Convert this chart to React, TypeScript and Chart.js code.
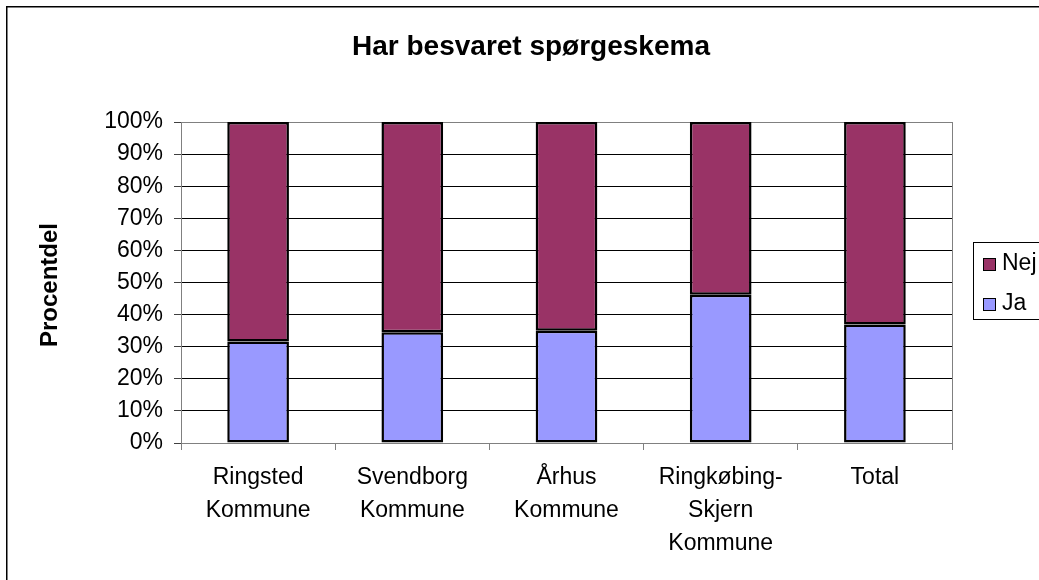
import React, { useEffect, useRef } from "react";
import { Chart, registerables } from "chart.js";

Chart.register(...registerables);

const TITLE = "Har besvaret spørgeskema";
const Y_TITLE = "Procentdel";
const CATEGORIES: string[][] = [
  ["Ringsted", "Kommune"],
  ["Svendborg", "Kommune"],
  ["Århus", "Kommune"],
  ["Ringkøbing-", "Skjern", "Kommune"],
  ["Total"],
];
const JA = [31.6, 34.5, 35.0, 46.2, 36.9];
const NEJ = [68.4, 65.5, 65.0, 53.8, 63.1];
const Y_TICKS = [0, 10, 20, 30, 40, 50, 60, 70, 80, 90, 100];

const FONT = "'Liberation Sans', Arial, sans-serif";
const NEJ_COLOR = "#993366";
const JA_COLOR = "#9999FF";

const decorPlugin = {
  id: "decor",
  beforeDatasetsDraw(chart: any) {
    const { ctx, chartArea } = chart;
    ctx.save();
    ctx.strokeStyle = "#808080";
    ctx.lineWidth = 1;
    ctx.beginPath();
    ctx.moveTo(Math.round(chartArea.right) + 0.5, chartArea.top);
    ctx.lineTo(Math.round(chartArea.right) + 0.5, chartArea.bottom + 7);
    ctx.stroke();
    ctx.restore();
  },
  afterDraw(chart: any) {
    const { ctx } = chart;
    ctx.save();
    // outer frame
    ctx.strokeStyle = "#000";
    ctx.lineWidth = 1.5;
    ctx.beginPath();
    ctx.moveTo(6.75, 600);
    ctx.lineTo(6.75, 6.75);
    ctx.lineTo(1060, 6.75);
    ctx.stroke();

    // title
    ctx.fillStyle = "#000";
    ctx.font = `bold 28px ${FONT}`;
    ctx.textAlign = "center";
    ctx.textBaseline = "alphabetic";
    ctx.fillText(TITLE, 531, 55);

    // y title
    ctx.save();
    ctx.translate(56.5, 285);
    ctx.rotate(-Math.PI / 2);
    ctx.font = `bold 24px ${FONT}`;
    ctx.textAlign = "center";
    ctx.textBaseline = "alphabetic";
    ctx.fillText(Y_TITLE, 0, 0);
    ctx.restore();

    // legend
    ctx.strokeStyle = "#000";
    ctx.lineWidth = 1;
    ctx.strokeRect(973.5, 242.5, 100, 77);
    const items = [...chart.data.datasets].reverse();
    const baselines = [270, 310];
    items.forEach((ds: any, i: number) => {
      const b = baselines[i];
      ctx.fillStyle = ds.backgroundColor;
      ctx.fillRect(983, b - 12, 12, 12);
      ctx.strokeStyle = "#000";
      ctx.strokeRect(983.5, b - 11.5, 12, 12);
      ctx.fillStyle = "#000";
      ctx.font = `23px ${FONT}`;
      ctx.textAlign = "left";
      ctx.fillText(ds.label, 1002, b);
    });
    ctx.restore();
  },
};

export default function App() {
  const ref = useRef<HTMLCanvasElement | null>(null);
  useEffect(() => {
    if (!ref.current) return;
    const chart = new Chart(ref.current, {
      type: "bar",
      data: {
        labels: CATEGORIES,
        datasets: [
          {
            label: "Ja",
            data: JA,
            backgroundColor: JA_COLOR,
            borderColor: "#000",
            borderWidth: 2.5,
            borderSkipped: false,
            inflateAmount: 0,
            barPercentage: 0.4,
            categoryPercentage: 1,
          },
          {
            label: "Nej",
            data: NEJ,
            backgroundColor: NEJ_COLOR,
            borderColor: "#000",
            borderWidth: 2.5,
            borderSkipped: false,
            inflateAmount: 0,
            barPercentage: 0.4,
            categoryPercentage: 1,
          },
        ],
      },
      options: {
        animation: false,
        responsive: false,
        devicePixelRatio: 1,
        layout: { padding: { top: 122, right: 87, left: 0, bottom: 0 } },
        plugins: {
          legend: { display: false },
          title: { display: false },
          tooltip: { enabled: false },
        },
        scales: {
          x: {
            stacked: true,
            afterFit: (s: any) => {
              s.height = 137;
            },
            grid: {
              offset: true,
              drawOnChartArea: false,
              drawTicks: true,
              tickLength: 7,
              tickColor: "#808080",
            },
            border: { color: "#808080", width: 1 },
            ticks: {
              color: "#000",
              font: { family: FONT, size: 23, lineHeight: 1.43 },
              padding: 11,
              maxRotation: 0,
              autoSkip: false,
            },
          },
          y: {
            stacked: true,
            min: 0,
            max: 100,
            afterFit: (s: any) => {
              s.width = 181;
            },
            afterBuildTicks: (s: any) => {
              s.ticks = Y_TICKS.map((v) => ({ value: v }));
            },
            grid: {
              color: (c: any) =>
                c.tick && (c.tick.value === 0 || c.tick.value === 100) ? "#808080" : "#000",
              tickColor: "#404040",
              tickLength: 7,
              lineWidth: 1,
            },
            border: { color: "#808080", width: 1 },
            ticks: {
              color: "#000",
              font: { family: FONT, size: 23 },
              padding: 11,
              callback: (v: any) => `${v}%`,
            },
          },
        },
      },
      plugins: [decorPlugin],
    });
    return () => chart.destroy();
  }, []);
  return (
    <div style={{ position: "absolute", left: 0, top: 0, width: 1039, height: 580, background: "#fff" }}>
      <canvas ref={ref} width={1039} height={580} />
    </div>
  );
}
